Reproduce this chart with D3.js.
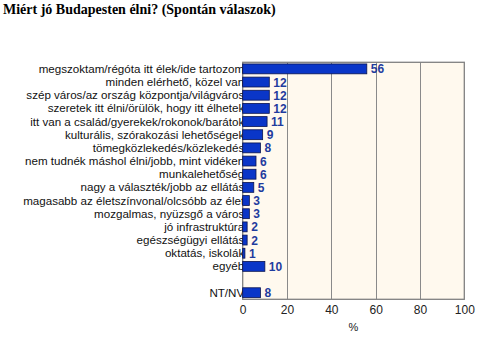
<!DOCTYPE html>
<html><head><meta charset="utf-8">
<script src="https://cdn.jsdelivr.net/npm/d3@7"></script>
<style>body{margin:0;background:#fff}svg{display:block}</style>
</head><body>
<script>
const title = "Miért jó Budapesten élni? (Spontán válaszok)";
const categories = [
  "megszoktam/régóta itt élek/ide tartozom",
  "minden elérhető, közel van",
  "szép város/az ország központja/világváros",
  "szeretek itt élni/örülök, hogy itt élhetek",
  "itt van a család/gyerekek/rokonok/barátok",
  "kulturális, szórakozási lehetőségek",
  "tömegközlekedés/közlekedés",
  "nem tudnék máshol élni/jobb, mint vidéken",
  "munkalehetőség",
  "nagy a választék/jobb az ellátás",
  "magasabb az életszínvonal/olcsóbb az élet",
  "mozgalmas, nyüzsgő a város",
  "jó infrastruktúra",
  "egészségügyi ellátás",
  "oktatás, iskolák",
  "egyéb",
  "",
  "NT/NV"
];
const values = [56, 12, 12, 12, 11, 9, 8, 6, 6, 5, 3, 3, 2, 2, 1, 10, null, 8];
const xTicks = [0, 20, 40, 60, 80, 100];
const axisTitle = "%";

const W = 495, H = 341;
const svg = d3.select("body").append("svg").attr("width", W).attr("height", H);
const pL = 242.7, pR = 464.3, pT = 62.3, pB = 299.3;

svg.append("text").attr("x", 3).attr("y", 14)
  .attr("font-family", "'Liberation Serif','Times New Roman',serif")
  .attr("font-weight", "bold").attr("font-size", 14).attr("fill", "#000")
  .text(title);

const x = d3.scaleLinear().domain([0, 100]).range([pL, pR]);
const idx = categories.map((c, i) => i);
const y = d3.scaleBand().domain(idx).range([pT, pB]).paddingInner(0.25).paddingOuter(0.125);

svg.append("rect").attr("x", pL).attr("y", pT).attr("width", pR - pL).attr("height", pB - pT)
  .attr("fill", "#FFF9EE");

svg.append("g").selectAll("line").data(xTicks.slice(1, -1)).join("line")
  .attr("x1", d => Math.round(x(d)) + 0.5).attr("x2", d => Math.round(x(d)) + 0.5)
  .attr("y1", pT).attr("y2", pB).attr("stroke", "#8a8a8a").attr("stroke-width", 1);

svg.append("rect").attr("x", pL).attr("y", pT).attr("width", pR - pL).attr("height", pB - pT)
  .attr("fill", "none").attr("stroke", "#808080").attr("stroke-width", 1.3);

svg.append("g").selectAll("text").data(idx).join("text")
  .attr("x", pL + 1.5).attr("y", i => y(i) + y.bandwidth() / 2 + 4)
  .attr("text-anchor", "end")
  .attr("font-family", "'Liberation Sans',Arial,sans-serif").attr("font-size", 11.6)
  .attr("fill", "#111")
  .text(i => categories[i]);

svg.append("g").selectAll("rect").data(idx.filter(i => values[i] != null)).join("rect")
  .attr("x", x(0)).attr("y", i => y(i))
  .attr("width", i => x(values[i]) - x(0)).attr("height", y.bandwidth())
  .attr("fill", "#0A36C8").attr("stroke", "#0a1450").attr("stroke-width", 0.8);

svg.append("g").selectAll("text").data(idx.filter(i => values[i] != null)).join("text")
  .attr("x", i => x(values[i]) + 4).attr("y", i => y(i) + y.bandwidth() / 2 + 4.5)
  .attr("font-family", "'Liberation Sans',Arial,sans-serif").attr("font-size", 12)
  .attr("font-weight", "bold").attr("fill", "#1F3C9E")
  .text(i => values[i]);

const ax = svg.append("g").attr("transform", `translate(0,${pB})`)
  .call(d3.axisBottom(x).tickValues(xTicks).tickSize(0).tickPadding(6));
ax.select(".domain").remove();
ax.selectAll("text").attr("font-family", "'Liberation Sans',Arial,sans-serif")
  .attr("font-size", 12).attr("fill", "#222");

svg.append("text").attr("x", (pL + pR) / 2).attr("y", 331)
  .attr("text-anchor", "middle")
  .attr("font-family", "'Liberation Sans',Arial,sans-serif").attr("font-size", 11).attr("fill", "#222")
  .text(axisTitle);
</script>
</body></html>
